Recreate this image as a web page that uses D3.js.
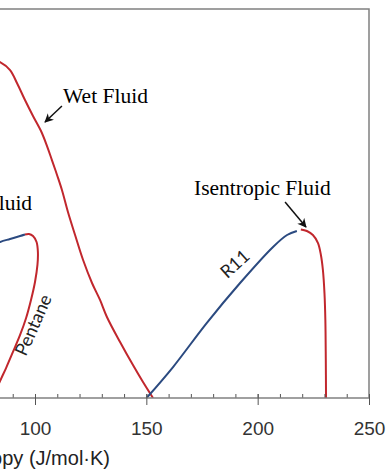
<!DOCTYPE html>
<html>
<head>
<meta charset="utf-8">
<script src="https://cdn.jsdelivr.net/npm/d3@7"></script>
<style>
  body { margin: 0; background: #fff; }
  svg { display: block; }
</style>
</head>
<body>
<div id="chart"></div>
<script>
var w = 387,
    h = 473;

// entropy (J/mol.K) and temperature (K)
var wetS = [70.8, 76.2, 80.7, 84.3, 88.8, 91.9, 95.5, 99.1, 102.7, 105.4, 107.6, 109.9, 112.1,
            114.8, 118.0, 121.6, 125.6, 129.2, 132.3, 138.2, 144.0, 148.5, 153.0];
var wetT = [506.0, 509.9, 510.7, 509.1, 502.9, 492.9, 479.8, 467.5, 455.9, 444.3, 433.5, 422.0, 410.4,
            393.4, 375.7, 356.4, 338.7, 325.6, 312.5, 293.2, 275.4, 262.3, 250.0];

var pentaneLiqS = [70.8, 77.5, 84.3, 88.8, 93.3, 95.5];
var pentaneLiqT = [354.9, 363.4, 370.3, 372.6, 374.9, 376.1];
var pentaneVapS = [95.5, 97.3, 99.1, 100.7, 101.3, 101.1, 100.0, 98.2, 96.0, 93.3, 90.1, 87.0, 84.3, 81.1];
var pentaneVapT = [376.1, 376.5, 374.9, 370.3, 362.6, 352.6, 339.5, 325.6, 311.7, 298.6, 285.5, 273.1, 263.1, 250.0];

var r11LiqS = [150.1, 162.0, 177.1, 192.1, 206.9, 213.2, 217.6];
var r11LiqT = [250.0, 273.9, 307.8, 338.7, 366.5, 375.7, 378.8];
var r11VapS = [219.4, 222.1, 224.8, 227.1, 228.4, 229.3, 230.0, 230.4, 230.6, 230.7];
var r11VapT = [380.0, 378.8, 375.7, 369.5, 360.3, 348.7, 331.0, 310.2, 279.3, 250.0];

var majorTicks = [100, 150, 200, 250];
var minorTicks = d3.range(0, 251, 10);

var red = "#c1272d",
    blue = "#2b4a80";

var x = d3.scaleLinear().domain([100, 250]).range([35, 369]);
var y = d3.scaleLinear().domain([250, 550]).range([398, 9]);

var svg = d3.select("#chart")
    .append("svg")
    .attr("width", w)
    .attr("height", h);

svg.append("defs").append("marker")
    .attr("id", "arrow")
    .attr("viewBox", "0 0 10 10")
    .attr("refX", 9)
    .attr("refY", 5)
    .attr("markerWidth", 6)
    .attr("markerHeight", 6)
    .attr("markerUnits", "strokeWidth")
    .attr("orient", "auto")
    .append("path")
    .attr("d", "M0,0 L10,5 L0,10 L3,5 Z")
    .attr("fill", "#111");

svg.select("defs").append("clipPath")
    .attr("id", "plot")
    .append("rect")
    .attr("x", -300).attr("y", y(550))
    .attr("width", x(250) + 300).attr("height", y(250) - y(550));

var line = d3.line()
    .x(function(d) { return x(d[0]); })
    .y(function(d) { return y(d[1]); })
    .curve(d3.curveCatmullRom);

var curves = [
  {s: wetS, t: wetT, color: red},
  {s: pentaneLiqS, t: pentaneLiqT, color: blue},
  {s: pentaneVapS, t: pentaneVapT, color: red},
  {s: r11LiqS, t: r11LiqT, color: blue},
  {s: r11VapS, t: r11VapT, color: red}
];

svg.append("g")
    .attr("clip-path", "url(#plot)")
    .selectAll("path")
    .data(curves)
    .enter()
    .append("path")
    .attr("d", function(c) { return line(d3.zip(c.s, c.t)); })
    .attr("fill", "none")
    .attr("stroke", function(c) { return c.color; })
    .attr("stroke-width", 2);

// frame: top and right
svg.append("path")
    .attr("d", "M" + (x(0)) + "," + y(550) + "H" + x(250) + "V" + y(250))
    .attr("fill", "none")
    .attr("stroke", "#808080")
    .attr("stroke-width", 1.5);

// minor ticks point inwards
var minorAxis = svg.append("g")
    .attr("transform", "translate(0," + y(250) + ")")
    .call(d3.axisBottom(x).tickValues(minorTicks).tickSize(-4).tickFormat(""));
minorAxis.select(".domain").remove();

var axis = svg.append("g")
    .attr("transform", "translate(0," + y(250) + ")")
    .call(d3.axisBottom(x).tickValues(majorTicks).tickSize(7).tickSizeOuter(0));

axis.select(".domain")
    .attr("d", "M" + x(0) + ",0H" + x(250))
    .attr("stroke", "#808080")
    .attr("stroke-width", 1.5);

svg.selectAll(".tick line").attr("stroke", "#555");
axis.selectAll(".tick line").attr("y1", -4);

axis.selectAll(".tick text")
    .attr("y", 37)
    .attr("dy", 0)
    .attr("fill", "#333")
    .style("font-family", "'Liberation Sans', Arial, sans-serif")
    .style("font-size", "19px");

svg.append("text")
    .attr("x", 110)
    .attr("y", 465)
    .attr("text-anchor", "end")
    .attr("fill", "#222")
    .style("font-family", "'Liberation Sans', Arial, sans-serif")
    .style("font-size", "20px")
    .text("Entropy (J/mol·K)");

// annotations
var serif = "'Liberation Serif', 'Times New Roman', serif";

svg.append("text")
    .attr("x", x(112.6)).attr("y", y(477.5))
    .style("font-family", serif).style("font-size", "21.5px")
    .text("Wet Fluid");

svg.append("text")
    .attr("x", x(171.4)).attr("y", y(406.5))
    .style("font-family", serif).style("font-size", "21.5px")
    .text("Isentropic Fluid");

svg.append("text")
    .attr("x", x(98.7)).attr("y", y(395))
    .attr("text-anchor", "end")
    .style("font-family", serif).style("font-size", "21.5px")
    .text("Dry Fluid");

var arrows = [
  [112.1, 475.2, 104.5, 462.8],
  [212.3, 401.2, 221.7, 381.9]
];

svg.selectAll(".arrow")
    .data(arrows)
    .enter()
    .append("line")
    .attr("class", "arrow")
    .attr("x1", function(d) { return x(d[0]); })
    .attr("y1", function(d) { return y(d[1]); })
    .attr("x2", function(d) { return x(d[2]); })
    .attr("y2", function(d) { return y(d[3]); })
    .attr("stroke", "#111")
    .attr("stroke-width", 1.5)
    .attr("marker-end", "url(#arrow)");

svg.append("text")
    .attr("transform", "translate(" + x(99.2) + "," + y(306.3) + ") rotate(-66)")
    .attr("text-anchor", "middle")
    .attr("dy", "0.35em")
    .attr("fill", "#222")
    .style("font-family", "Lato, 'Open Sans', sans-serif")
    .style("font-size", "18px")
    .text("Pentane");

svg.append("text")
    .attr("transform", "translate(" + x(189.8) + "," + y(353.5) + ") rotate(-42)")
    .attr("text-anchor", "middle")
    .attr("dy", "0.35em")
    .attr("fill", "#222")
    .style("font-family", "Lato, 'Open Sans', sans-serif")
    .style("font-size", "18px")
    .text("R11");
</script>
</body>
</html>
